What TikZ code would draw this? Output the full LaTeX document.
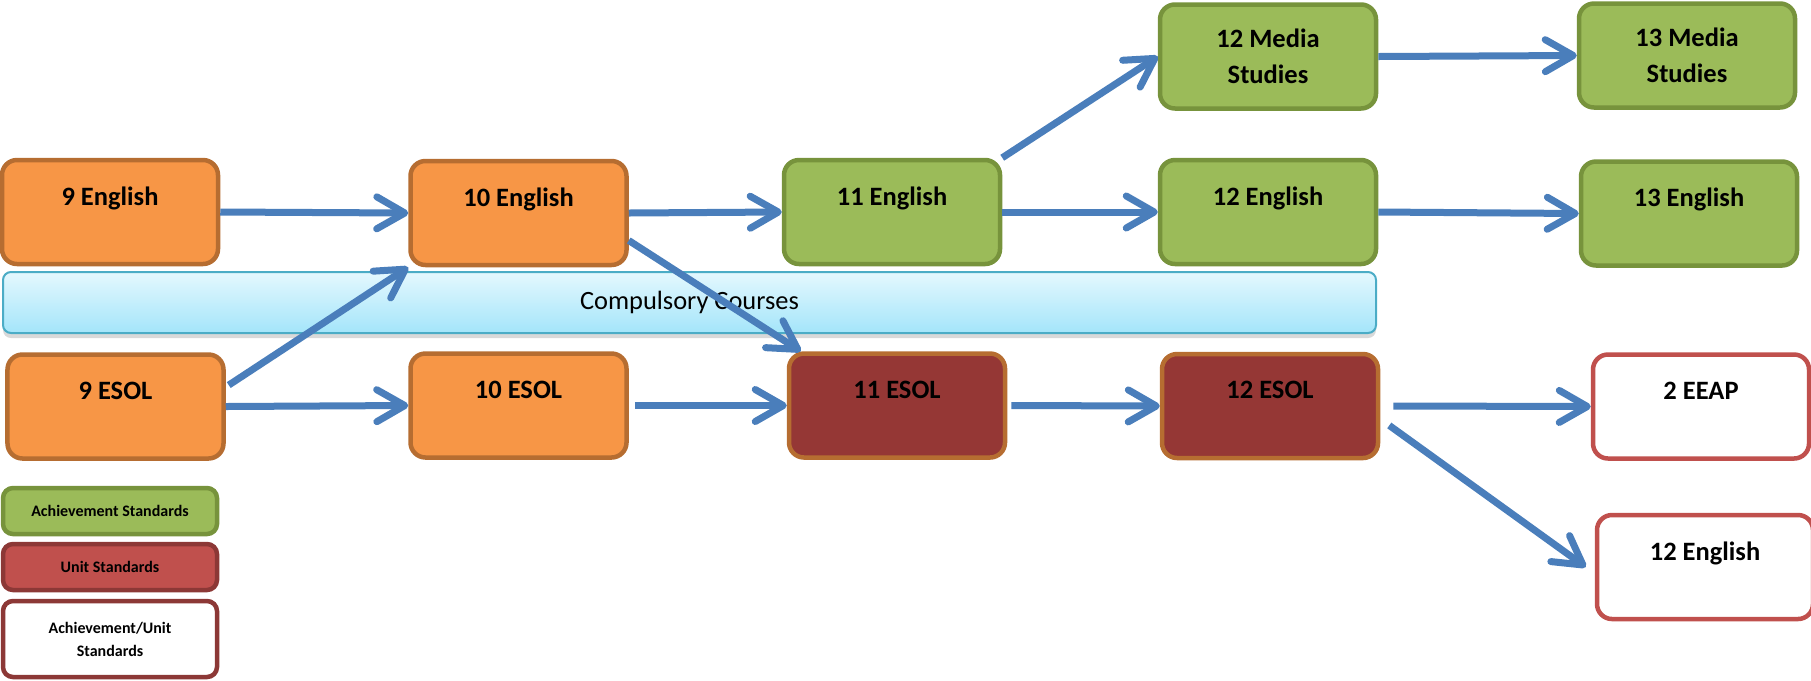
\documentclass[tikz,border=0pt]{standalone}
\usepackage{fontspec}
\setmainfont{Carlito}
\usepackage{tikz}
\usetikzlibrary{positioning}
\usetikzlibrary{arrows.meta}
\usetikzlibrary{shadows}

\definecolor{juniorfill}{HTML}{F79646}
\definecolor{juniorline}{HTML}{B66D31}
\definecolor{achfill}{HTML}{9BBB59}
\definecolor{achline}{HTML}{77933C}
\definecolor{esolfill}{HTML}{953735}
\definecolor{unitfill}{HTML}{C0504D}
\definecolor{unitline}{HTML}{8C3836}
\definecolor{barline}{HTML}{4BACC6}
\definecolor{bartop}{HTML}{E4F8FE}
\definecolor{barbottom}{HTML}{A4E5FA}
\definecolor{flowblue}{HTML}{4A7EBB}

\begin{document}
\begin{tikzpicture}[
    course/.style={rectangle, rounded corners=0.15cm, minimum width=2.16cm, minimum height=1.04cm,
        line width=0.045cm, inner sep=0pt, align=center, font=\fontsize{0.265cm}{0.36cm}\selectfont\bfseries},
    junior/.style={course, fill=juniorfill, draw=juniorline},
    achieve/.style={course, fill=achfill, draw=achline},
    esol/.style={course, fill=esolfill, draw=juniorline},
    mixed/.style={course, fill=white, draw=unitfill},
    key/.style={rectangle, rounded corners=0.1cm, minimum width=2.14cm, minimum height=0.46cm,
        line width=0.045cm, inner sep=0pt, align=center, font=\fontsize{0.16cm}{0.23cm}\selectfont\bfseries},
    flow/.style={draw=flowblue, line width=0.07cm,
        arrows=-{Straight Barb[round,length=0.28cm,width=0.32cm]}}
]

            \useasboundingbox (0,0) rectangle (18.11,6.80);

            % compulsory band
            \node (band) [rectangle, rounded corners=0.08cm, minimum width=13.73cm, minimum height=0.61cm,
                  draw=barline, line width=0.02cm, top color=bartop, bottom color=barbottom,
                  drop shadow={shadow xshift=0cm, shadow yshift=-0.05cm, opacity=0.3},
                  font=\fontsize{0.264cm}{0.32cm}\selectfont] at (6.895,3.775) {Compulsory Courses};

            \path   (1.10,4.68)   node (e9)  [junior]  {9 English\\[-0.04cm]~}
                    (5.185,4.67)  node (e10) [junior]  {10 English\\[-0.04cm]~}
                    (8.92,4.68)   node (e11) [achieve] {11 English\\[-0.04cm]~}
                    (12.68,4.68)  node (e12) [achieve] {12 English\\[-0.04cm]~}
                    (16.89,4.665) node (e13) [achieve] {13 English\\[-0.04cm]~}
                    (12.68,6.235) node (m12) [achieve] {12 Media\\Studies}
                    (16.87,6.245) node (m13) [achieve] {13 Media\\Studies}
                    (1.155,2.735) node (s9)  [junior]  {9 ESOL\\[-0.04cm]~}
                    (5.185,2.745) node (s10) [junior]  {10 ESOL\\[-0.04cm]~}
                    (8.97,2.745)  node (s11) [esol]    {11 ESOL\\[-0.04cm]~}
                    (12.70,2.74)  node (s12) [esol]    {12 ESOL\\[-0.04cm]~}
                    (17.01,2.735) node (eeap) [mixed]  {2 EEAP\\[-0.04cm]~}
                    (17.05,1.13)  node (e12w) [mixed]  {12 English\\[-0.04cm]~};

            % key
            \path   (1.10,1.69)  node (keyach)  [key, fill=achfill, draw=achline] {Achievement Standards}
                    (1.10,1.13)  node (keyunit) [key, fill=unitfill, draw=unitline] {Unit Standards}
                    (1.10,0.41)  node (keymix)  [key, minimum height=0.76cm, fill=white, draw=unitline] {Achievement/Unit\\Standards};

            \draw[flow] (e9.east) -- (e10.west);
            \draw[flow] ([xshift=0.03cm]s9.11) -- (e10.south west);
            \draw[flow] (s9.east) -- (s10.west);
            \draw[flow] (e10.east) -- (e11.west);
            \draw[flow] (e10.-14) -- ([xshift=0.14cm]s11.north west);
            \draw[flow] ([xshift=0.06cm]s10.east) -- (s11.west);
            \draw[flow] (e11.north east) -- (m12.west);
            \draw[flow] (e11.east) -- (e12.west);
            \draw[flow] ([xshift=0.04cm]s11.east) -- (s12.west);
            \draw[flow] (m12.east) -- (m13.west);
            \draw[flow] (e12.east) -- (e13.west);
            \draw[flow] ([xshift=0.13cm]s12.east) -- (eeap.west);
            \draw[flow] ([xshift=0.09cm]s12.-10) -- ([xshift=-0.09cm]e12w.west);

        \end{tikzpicture}
\end{document}
